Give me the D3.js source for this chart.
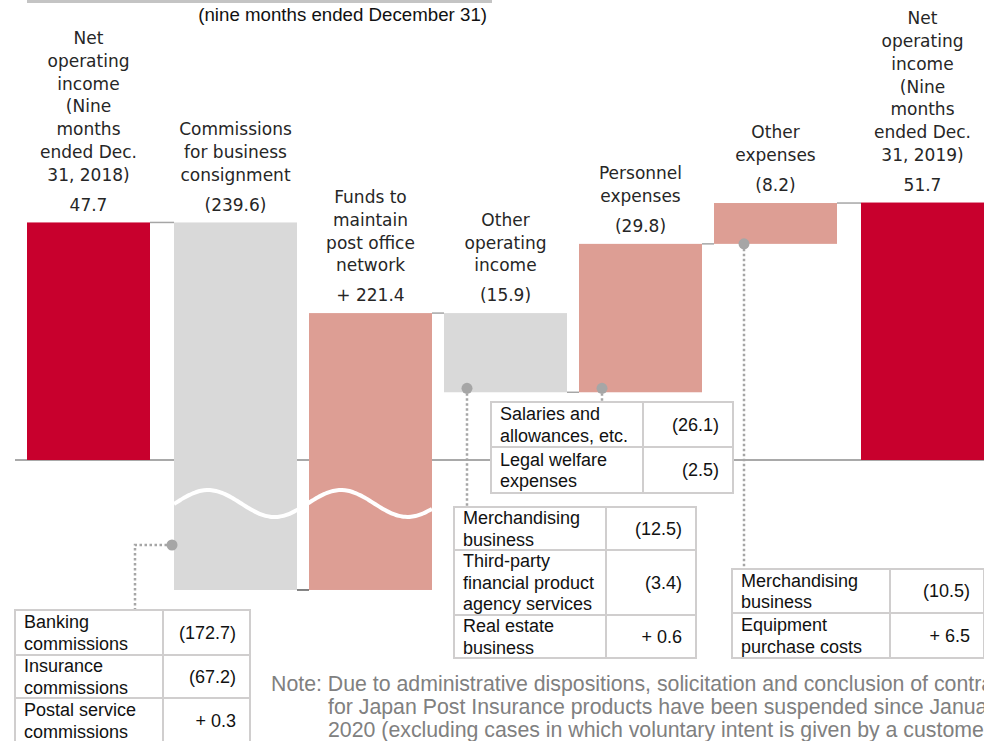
<!DOCTYPE html>
<html>
<head>
<meta charset="utf-8">
<script src="https://cdn.jsdelivr.net/npm/d3@7"></script>
<style>
	body { margin: 0; background: #fff; }
	svg { display: block; }
	.lbl { font-family: "DejaVu Sans", Verdana, sans-serif; font-size: 17px; fill: #262626; }
	.tbl { font-family: "Liberation Sans", Arial, sans-serif; font-size: 18px; fill: #111; }
	.cap { font-family: "Liberation Sans", Arial, sans-serif; font-size: 18.7px; fill: #111; }
	.note { font-family: "Liberation Sans", Arial, sans-serif; font-size: 21.3px; fill: #808080; }
</style>
</head>
<body>
<div class="viz"></div>
<script>
// waterfall steps (values in billion yen, as printed)
let categories = [
	["Net", "operating", "income", "(Nine", "months", "ended Dec.", "31, 2018)"],
	["Commissions", "for business", "consignment"],
	["Funds to", "maintain", "post office", "network"],
	["Other", "operating", "income"],
	["Personnel", "expenses"],
	["Other", "expenses"],
	["Net", "operating", "income", "(Nine", "months", "ended Dec.", "31, 2019)"]
];
let kinds = ["total", "income", "income", "income", "expense", "expense", "total"];
let values = [47.7, -239.6, 221.4, -15.9, -29.8, -8.2, 51.7];

// breakdown tables
let commissionItems = [["Banking", "commissions"], ["Insurance", "commissions"], ["Postal service", "commissions"]];
let commissionValues = [-172.7, -67.2, 0.3];
let otherIncomeItems = [["Merchandising", "business"], ["Third-party", "financial product", "agency services"], ["Real estate", "business"]];
let otherIncomeValues = [-12.5, -3.4, 0.6];
let personnelItems = [["Salaries and", "allowances, etc."], ["Legal welfare", "expenses"]];
let personnelValues = [-26.1, -2.5];
let otherExpenseItems = [["Merchandising", "business"], ["Equipment", "purchase costs"]];
let otherExpenseValues = [-10.5, 6.5];

let periodNote = "(nine months ended December 31)";
let noteLines = [
	"Note: Due to administrative dispositions, solicitation and conclusion of contracts",
	"for Japan Post Insurance products have been suspended since January 1,",
	"2020 (excluding cases in which voluntary intent is given by a customer)."
];

let width = 984, height = 741;
let red = "#C8002D", salmon = "#DD9E94", grey = "#D9D9D9", lineGrey = "#A6A6A6";

let svg = d3.select('.viz').append('svg')
	.attr('width', width)
	.attr('height', height);

svg.append('rect').attr('width', width).attr('height', height).attr('fill', '#fff');

// running levels
let steps = [], level = 0;
values.forEach(function(v, i) {
	if (kinds[i] === 'total') {
		steps.push({ i: i, start: 0, end: v });
		level = v;
	} else {
		let eff = kinds[i] === 'expense' ? -v : v;
		steps.push({ i: i, start: level, end: level + eff, eff: eff });
		level += eff;
	}
});

let y = d3.scaleLinear().domain([0, 50]).range([460, 211]);
let breakValue = -26.1; // axis is broken below this
let yc = v => y(Math.max(v, breakValue));

let x = d3.scaleBand()
	.domain(d3.range(categories.length))
	.range([39, 972])
	.paddingInner(12 / 135)
	.paddingOuter(0);
let bw = x.bandwidth();
let bx = i => x(i) + (kinds[i] === 'total' ? (i === 0 ? -12 : 12) : 0);

// top strip (bottom edge of a table above) + period caption
svg.append('line').attr('x1', 27).attr('x2', 492).attr('y1', 1.5).attr('y2', 1.5)
	.attr('stroke', '#C4C4C4').attr('stroke-width', 3);
svg.append('text').attr('class', 'cap')
	.attr('x', 487).attr('y', 21)
	.attr('text-anchor', 'end')
	.text(periodNote);

// zero line
svg.append('line')
	.attr('x1', 15).attr('x2', width)
	.attr('y1', y(0)).attr('y2', y(0))
	.attr('stroke', '#8C8C8C').attr('stroke-width', 1.3);

// connectors between bars
for (let i = 0; i < steps.length - 1; i++) {
	let lv = steps[i].end;
	svg.append('line')
		.attr('x1', bx(i) + bw).attr('x2', bx(i + 1))
		.attr('y1', yc(lv)).attr('y2', yc(lv))
		.attr('stroke', lv < breakValue ? '#595959' : lineGrey)
		.attr('stroke-width', 1.5);
}

// bars
svg.append('g').selectAll('rect')
	.data(steps)
	.enter().append('rect')
	.attr('x', d => bx(d.i))
	.attr('width', bw)
	.attr('y', d => yc(Math.max(d.start, d.end)))
	.attr('height', d => yc(Math.min(d.start, d.end)) - yc(Math.max(d.start, d.end)))
	.attr('fill', d => kinds[d.i] === 'total' ? red : (d.eff < 0 ? grey : salmon));

// wavy break mark across the two clipped bars
let wx0 = bx(1), wx1 = bx(2) + bw;
let wave = d3.line().curve(d3.curveBasis);
let wavePts = d3.range(wx0, wx1 + 1, 3).map(px => [px, 503.5 - 13.5 * Math.cos(2 * Math.PI * (px - (wx0 + 34)) / 133)]);
svg.append('path')
	.attr('d', wave(wavePts))
	.attr('fill', 'none')
	.attr('stroke', '#fff')
	.attr('stroke-width', 4);

// labels
function fmt(v, kind) {
	if (kind === 'total') return v.toFixed(1);
	return v < 0 ? '(' + Math.abs(v).toFixed(1) + ')' : '+ ' + v.toFixed(1);
}

steps.forEach(function(d) {
	let cx = bx(d.i) + bw / 2;
	let vy = yc(Math.max(d.start, d.end)) - 18;
	svg.append('text').attr('class', 'lbl')
		.attr('x', cx).attr('y', vy).attr('dy', '0.36em')
		.attr('text-anchor', 'middle')
		.text(fmt(values[d.i], kinds[d.i]));
	let lines = categories[d.i];
	lines.forEach(function(t, j) {
		svg.append('text').attr('class', 'lbl')
			.attr('x', cx)
			.attr('y', vy - 30 - (lines.length - 1 - j) * 22.7)
			.attr('dy', '0.36em')
			.attr('text-anchor', 'middle')
			.text(t);
	});
});

// dotted leaders + tables
function leader(path, dot) {
	svg.append('path')
		.attr('d', path)
		.attr('fill', 'none')
		.attr('stroke', lineGrey)
		.attr('stroke-width', 2.5)
		.attr('stroke-dasharray', '2.5,2.5');
	svg.append('circle')
		.attr('cx', dot[0]).attr('cy', dot[1]).attr('r', 5.5)
		.attr('fill', lineGrey);
}

function table(x0, y0, w, split, rowHeights, items, vals) {
	let g = svg.append('g');
	let total = d3.sum(rowHeights);
	g.append('rect')
		.attr('x', x0).attr('y', y0).attr('width', w).attr('height', total)
		.attr('fill', '#fff').attr('stroke', '#D0CECE').attr('stroke-width', 2);
	g.append('line')
		.attr('x1', split).attr('x2', split).attr('y1', y0).attr('y2', y0 + total)
		.attr('stroke', '#D0CECE').attr('stroke-width', 2);
	let top = y0;
	items.forEach(function(lines, r) {
		let h = rowHeights[r], mid = top + h / 2;
		if (r > 0) {
			g.append('line')
				.attr('x1', x0).attr('x2', x0 + w).attr('y1', top).attr('y2', top)
				.attr('stroke', '#D0CECE').attr('stroke-width', 2);
		}
		lines.forEach(function(t, j) {
			g.append('text').attr('class', 'tbl')
				.attr('x', x0 + 9)
				.attr('y', mid + (j - (lines.length - 1) / 2) * 21.5)
				.attr('dy', '0.35em')
				.text(t);
		});
		g.append('text').attr('class', 'tbl')
			.attr('x', x0 + w - 14).attr('y', mid).attr('dy', '0.35em')
			.attr('text-anchor', 'end')
			.text(fmt(vals[r]));
		top += h;
	});
}

let bot4 = yc(steps[3].end), bot5 = yc(steps[4].start), bot6 = yc(steps[5].start);

leader('M' + (bx(1) - 2) + ',545H135V610', [bx(1) - 2, 545]);
table(15, 610, 235, 163, [45, 43, 45], commissionItems, commissionValues);

leader('M' + (bx(3) + 23) + ',' + (bot4 - 4) + 'V507', [bx(3) + 23, bot4 - 4]);
table(454, 507, 242, 606, [43, 65, 43], otherIncomeItems, otherIncomeValues);

leader('M' + (bx(4) + 23) + ',' + (bot5 - 4) + 'V402', [bx(4) + 23, bot5 - 4]);
table(491, 402, 242, 643, [45, 46], personnelItems, personnelValues);

leader('M' + (bx(5) + 30) + ',' + bot6 + 'V569', [bx(5) + 30, bot6]);
table(732, 569, 252, 890, [44, 45], otherExpenseItems, otherExpenseValues);

// note (runs off the right edge, as in the source slide)
noteLines.forEach(function(t, j) {
	svg.append('text').attr('class', 'note')
		.attr('x', j === 0 ? 271 : 328)
		.attr('y', 691 + j * 23)
		.text(t);
});
</script>
</body>
</html>
